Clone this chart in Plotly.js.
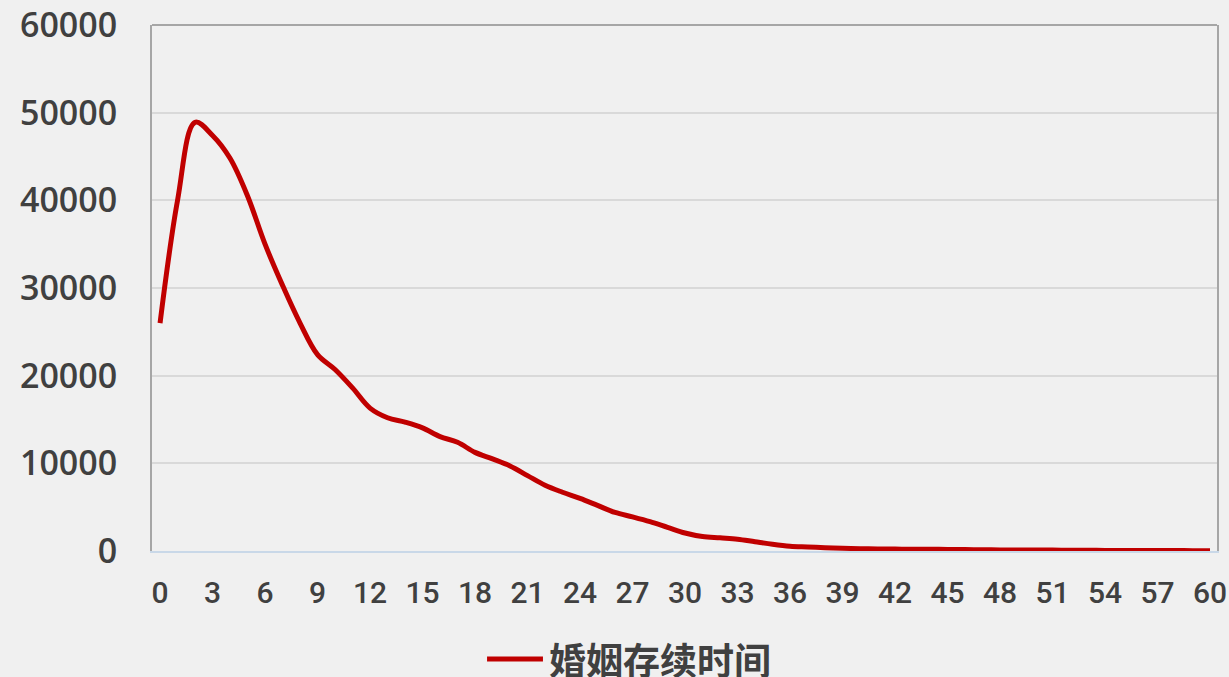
<!DOCTYPE html>
<html>
<head>
<meta charset="utf-8">
<script src="https://cdn.plot.ly/plotly-3.0.1.min.js"></script>
<style>
html,body{margin:0;padding:0;background:#f0f0f0;}
#chart{width:1229px;height:677px;}
</style>
</head>
<body>
<div id="chart"></div>
<script>
const seriesName = "婚姻存续时间";
const years = [0,1,2,3,4,5,6,7,8,9,10,11,12,13,14,15,16,17,18,19,20,21,22,23,24,25,26,27,28,29,30,31,32,33,34,35,36,37,38,39,40,41,42,43,44,45,46,47,48,49,50,51,52,53,54,55,56,57,58,59,60];
const counts = [26000,40000,48900,47400,44800,40500,35000,30300,26000,22400,20700,18600,16300,15200,14700,14050,13050,12400,11250,10500,9700,8600,7500,6700,6000,5200,4400,3900,3350,2700,2050,1650,1500,1350,1050,760,540,460,380,320,270,240,220,200,190,180,160,140,120,110,100,100,90,80,70,60,60,50,50,40,40];
const xTicks = [0,3,6,9,12,15,18,21,24,27,30,33,36,39,42,45,48,51,54,57,60];
const yTicks = [0,10000,20000,30000,40000,50000,60000];

const lineColor = '#c00000';

const trace = {
  x: years, y: counts, type: 'scatter', mode: 'lines', name: seriesName,
  line: {color: lineColor, width: 5, shape: 'spline', smoothing: 1}
};

const layout = {
  width: 1229, height: 677,
  paper_bgcolor: '#f0f0f0', plot_bgcolor: '#f0f0f0',
  margin: {l: 152, r: 12, t: 25, b: 126, autoexpand: false},
  xaxis: {
    range: [-0.46, 60.4], tickmode: 'array', tickvals: xTicks, ticktext: xTicks.map(String),
    showgrid: false, zeroline: false, showline: true, linecolor: '#c9d8e8', linewidth: 2,
    ticks: '', ticklabelstandoff: 14,
    tickfont: {family: 'Roboto, sans-serif', size: 30, color: '#404040', weight: 500}
  },
  yaxis: {
    range: [0, 60000], tickmode: 'array', tickvals: yTicks, ticktext: yTicks.map(String),
    showgrid: true, gridcolor: '#d9d9d9', gridwidth: 2, zeroline: false,
    showline: true, linecolor: '#a6a6a6', linewidth: 2, mirror: true,
    ticks: '', ticklabelstandoff: 26,
    tickfont: {family: '"Open Sans", sans-serif', size: 34, color: '#404040', weight: 600}
  },
  showlegend: false,
  shapes: [
    {type: 'line', xref: 'paper', yref: 'paper', x0: 0, x1: 1, y0: 1, y1: 1,
     line: {color: '#a6a6a6', width: 2}},
    // legend sample line
    {type: 'line', xref: 'paper', yref: 'paper', x0: 0.3146, x1: 0.3671, y0: -0.2053, y1: -0.2053,
     line: {color: lineColor, width: 5}}
  ],
  annotations: [
    {text: '<b>' + seriesName + '</b>', xref: 'paper', yref: 'paper', x: 0.3709, y: -0.2053,
     xanchor: 'left', yanchor: 'middle', showarrow: false,
     font: {family: '"Noto Sans CJK SC", sans-serif', size: 37, color: '#404040'}}
  ]
};

Plotly.newPlot('chart', [trace], layout, {displayModeBar: false, staticPlot: true});
</script>
</body>
</html>
